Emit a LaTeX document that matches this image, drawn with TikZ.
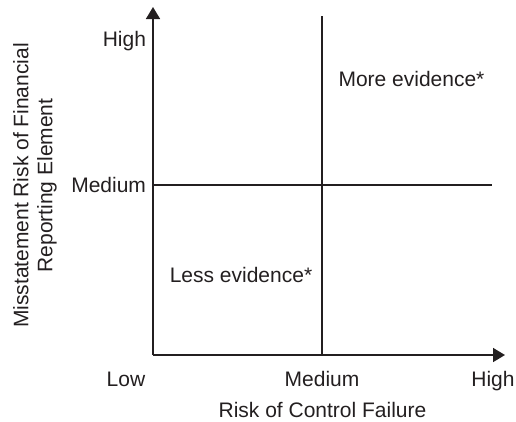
\documentclass[tikz,border=0pt]{standalone}
\usepackage{fontspec}
\setmainfont{Liberation Sans}
\usetikzlibrary{arrows.meta}
\definecolor{ink}{HTML}{231F20}
\begin{document}
\begin{tikzpicture}[x=1pt,y=-1pt,
  axis/.style={draw=ink,line width=1.6pt,-{Triangle[width=14pt,length=12pt]}},
  grid/.style={draw=ink,line width=1.6pt},
  lbl/.style={inner sep=0pt,outer sep=0pt,text=ink,font=\fontsize{21}{24}\selectfont}]
\useasboundingbox (0,0) rectangle (516,421);
% axes
\coordinate (O) at (153,355);
\coordinate (ytip) at (153,7);
\coordinate (xtip) at (505,355);
\coordinate (vtop) at (322,16);
\coordinate (vbot) at (322,355);
\coordinate (hleft) at (153,185);
\coordinate (hright) at (492,185);
\draw[axis] (O) -- (ytip);
\draw[axis] (O) -- (xtip);
% quadrant dividers
\draw[grid] (vbot) -- (vtop);
\draw[grid] (hleft) -- (hright);
% vertical axis ticks
\node[lbl,anchor=base east] (yhigh) at (146,46.5) {High};
\node[lbl,anchor=base east] (ymed) at (146,192.5) {Medium};
% horizontal axis ticks
\node[lbl,anchor=base] (xlow) at (126,386) {Low};
\node[lbl,anchor=base] (xmed) at (322,386) {Medium};
\node[lbl,anchor=base] (xhigh) at (493,386) {High};
% axis titles
\node[lbl,anchor=base] (xtitle) at (322.5,417) {Risk of Control Failure};
\node[lbl,rotate=90,align=center] (ytitle) at (35,185.5)
  {Misstatement Risk of Financial\\Reporting Element};
% quadrant notes
\node[lbl,anchor=base] (more) at (411.5,86) {More evidence*};
\node[lbl,anchor=base] (less) at (241,282) {Less evidence*};
\end{tikzpicture}
\end{document}
